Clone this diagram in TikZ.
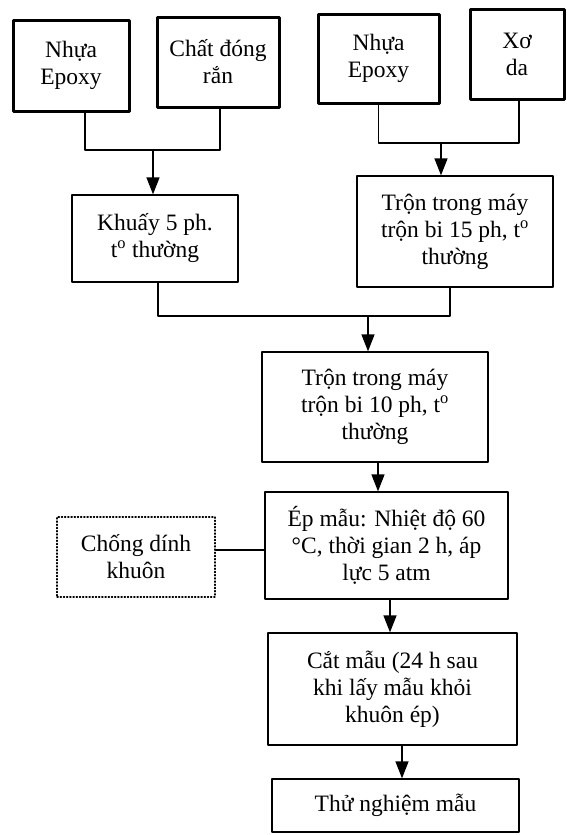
\documentclass[tikz,border=0pt]{standalone}
\usepackage{fontspec}
\setmainfont{Liberation Serif}
\usepackage{tikz}
\usetikzlibrary{arrows.meta}

\tikzset{
	hop/.style={draw,line width=3pt,align=center,inner sep=2pt},
	buoc/.style={draw,line width=1.3pt,align=center,inner sep=2pt},
	phu/.style={draw,dotted,line width=1.2pt,align=center,inner sep=2pt},
	noi/.style={line width=1.4pt}
}

\begin{document}
\begin{tikzpicture}[line cap=round,line join=round,>={Triangle[width=13pt,length=17pt]},x=1pt,y=-1pt]
		\useasboundingbox (0,0) rectangle (567,835);
\fontsize{23.5}{27}\selectfont
	\node[hop,minimum width=116,minimum height=91] (ep1) at (71,65.5) {Nhựa\\Epoxy};
	\node[hop,minimum width=122,minimum height=90] (cdr) at (218,62) {Chất đóng\\rắn};
	\node[hop,minimum width=121,minimum height=89] (ep2) at (378.5,58.5) {Nhựa\\Epoxy};
	\node[hop,minimum width=94,minimum height=90] (xd) at (517,54) {Xơ\\da};
	\node[buoc,minimum width=166,minimum height=87] (kh) at (155,238.5) {Khuấy 5 ph.\\t\textsuperscript{o} thường};
	\node[buoc,minimum width=196,minimum height=111] (tr15) at (455,231.5) {Trộn trong máy\\trộn bi 15 ph, t\textsuperscript{o}\\thường};
	\node[buoc,minimum width=226,minimum height=110] (tr10) at (375,407) {Trộn trong máy\\trộn bi 10 ph, t\textsuperscript{o}\\thường};
	\node[buoc,minimum width=243,minimum height=107] (ep) at (386.5,545.5) {Ép mẫu: Nhiệt độ 60\\°C, thời gian 2 h, áp\\lực 5 atm};
	\node[phu,minimum width=158,minimum height=80] (cd) at (136,557) {Chống dính\\khuôn};
	\node[buoc,minimum width=249,minimum height=112] (cat) at (392.5,689) {Cắt mẫu (24 h sau\\khi lấy mẫu khỏi\\khuôn ép)};
	\node[buoc,minimum width=247,minimum height=53] (thu) at (395.5,805.5) {Thử nghiệm mẫu};
	\coordinate (m1) at (153,150);
	\coordinate (m2) at (441,143);
	\coordinate (m3) at (368,316);
		\draw [noi] ([xshift=14]ep1.south) |- (m1) -| ([xshift=2]cdr.south);
		\draw [noi,->] (m1) -- (m1 |- kh.north);
		\draw [noi] (ep2.south) |- (m2) -| ([xshift=2]xd.south);
		\draw [noi,->] (m2) -- (m2 |- tr15.north);
		\draw [noi] ([xshift=3]kh.south) |- (m3) -| ([xshift=-5]tr15.south);
		\draw [noi,->] (m3) -- (m3 |- tr10.north);
		\draw [noi,->] ([xshift=3]tr10.south) -- ([xshift=3]tr10.south |- ep.north);
		\draw [noi] ([yshift=7]cd.east) -- ([yshift=7]cd.east -| ep.west);
		\draw [noi,->] ([xshift=3.5]ep.south) -- ([xshift=3.5]ep.south |- cat.north);
		\draw [noi,->] ([xshift=9.5]cat.south) -- ([xshift=9.5]cat.south |- thu.north);
\end{tikzpicture}
\end{document}
